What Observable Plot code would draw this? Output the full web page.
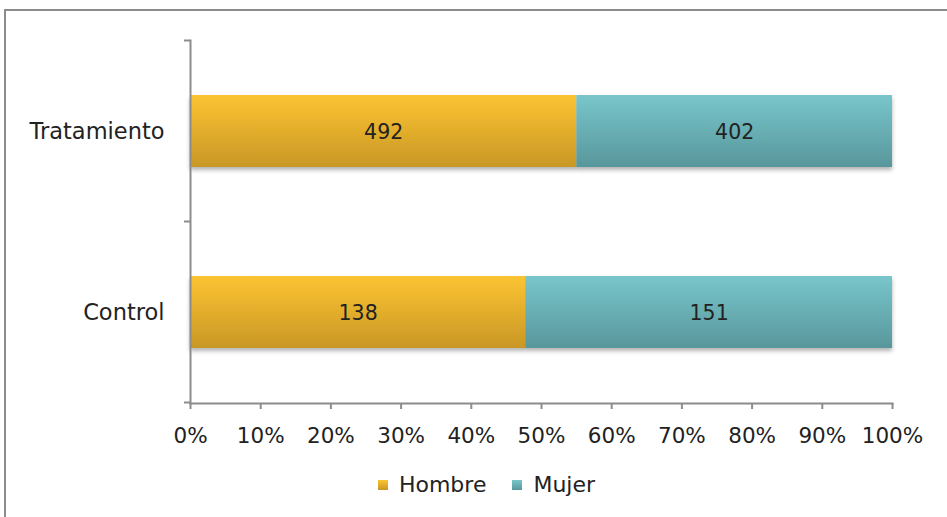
<!DOCTYPE html>
<html>
<head>
<meta charset="utf-8">
<script src="https://cdn.jsdelivr.net/npm/d3@7"></script>
<script src="https://cdn.jsdelivr.net/npm/@observablehq/plot@0.6"></script>
<style>
  html, body { margin: 0; padding: 0; background: #fff; overflow: hidden; }
  body { width: 947px; height: 517px; position: relative; font-family: "DejaVu Sans", sans-serif; }
  #frame { position: absolute; left: 4px; top: 9px; width: 1000px; height: 600px; border-top: 2px solid #8c8c8c; border-left: 2px solid #8c8c8c; box-sizing: border-box; }
  #chart { position: absolute; left: 0; top: 0; }
  #legend { position: absolute; left: 24px; top: 468px; width: 947px; display: flex; justify-content: center; }
</style>
</head>
<body>
<div id="frame"></div>
<div id="chart"></div>
<div id="legend"></div>
<script>
const categories = ["Tratamiento", "Control"];
const series = ["Hombre", "Mujer"];
const hombre = [492, 138];
const mujer = [402, 151];
const xTicks = [0, 0.1, 0.2, 0.3, 0.4, 0.5, 0.6, 0.7, 0.8, 0.9, 1];

const data = [];
categories.forEach((c, i) => {
  data.push({group: c, sex: "Hombre", value: hombre[i]});
  data.push({group: c, sex: "Mujer", value: mujer[i]});
});

const axisColor = "#8c8c8c";

// boundary ticks on the y axis, computed from the band scale
function bandTicks(index, scales, values, dims, context) {
  const y = scales.y;
  const step = y.step ? y.step() : (dims.height - dims.marginTop - dims.marginBottom) / categories.length;
  const x0 = scales.x(0);
  const g = d3.create("svg:g");
  const ys = [];
  categories.forEach(c => {
    const cy = y(c) + y.bandwidth() / 2;
    ys.push(cy - step / 2, cy + step / 2);
  });
  Array.from(new Set(ys.map(v => Math.round(v * 10) / 10))).forEach(v => {
    g.append("line").attr("x1", x0 - 6).attr("x2", x0).attr("y1", v).attr("y2", v)
      .attr("stroke", axisColor).attr("stroke-width", 2);
  });
  return g.node();
}

const plot = Plot.plot({
  width: 947,
  height: 470,
  marginLeft: 190,
  marginRight: 55,
  marginTop: 40,
  marginBottom: 67,
  style: {fontFamily: "DejaVu Sans, sans-serif", fontSize: "21px", color: "#222", background: "transparent"},
  x: {domain: [0, 1], ticks: xTicks, tickFormat: d3.format(".0%"), label: null},
  y: {domain: categories, paddingInner: 0.6, paddingOuter: 0.3, label: null},
  color: {domain: series, range: ["url(#gH)", "url(#gM)"]},
  marks: [
    Plot.barX(data, Plot.stackX({offset: "normalize", x: "value", y: "group", fill: "sex", order: series})),
    Plot.textX(data, Plot.stackX({offset: "normalize", x: "value", y: "group", z: "sex", order: series, text: d => String(d.value), fill: "#222", fontSize: 20.5, dy: 1})),
    Plot.frame({anchor: "bottom", stroke: axisColor, strokeWidth: 2, strokeOpacity: 1}),
    Plot.frame({anchor: "left", stroke: axisColor, strokeWidth: 2, strokeOpacity: 1}),
    Plot.axisX({ticks: xTicks, tickFormat: d3.format(".0%"), tickSize: 6, tickPadding: 18, stroke: axisColor, strokeWidth: 2, strokeOpacity: 1, fontSize: 21.5, label: null}),
    Plot.axisY({tickSize: 0, tickPadding: 26, fontSize: 22.5, label: null}),
    bandTicks
  ]
});

// gradients & shadow
const svg = d3.select(plot);
const defs = svg.insert("defs", ":first-child");
const gH = defs.append("linearGradient").attr("id", "gH").attr("x1", 0).attr("y1", 0).attr("x2", 0).attr("y2", 1);
gH.append("stop").attr("offset", "0%").attr("stop-color", "#fcc432");
gH.append("stop").attr("offset", "100%").attr("stop-color", "#c99726");
const gM = defs.append("linearGradient").attr("id", "gM").attr("x1", 0).attr("y1", 0).attr("x2", 0).attr("y2", 1);
gM.append("stop").attr("offset", "0%").attr("stop-color", "#78c6cb");
gM.append("stop").attr("offset", "100%").attr("stop-color", "#58979c");
const f = defs.append("filter").attr("id", "shadow").attr("x", "-5%").attr("y", "-20%").attr("width", "110%").attr("height", "150%");
f.append("feDropShadow").attr("dx", 0).attr("dy", 3).attr("stdDeviation", 2).attr("flood-color", "#000").attr("flood-opacity", 0.3);
svg.select("g[aria-label='bar']").attr("filter", "url(#shadow)");

document.getElementById("chart").appendChild(plot);

const legend = plot.legend("color", {swatchSize: 10, style: {fontFamily: "DejaVu Sans, sans-serif", fontSize: "22px", color: "#222"}});
legend.style.columnGap = "4px";
document.getElementById("legend").appendChild(legend);
</script>
</body>
</html>
